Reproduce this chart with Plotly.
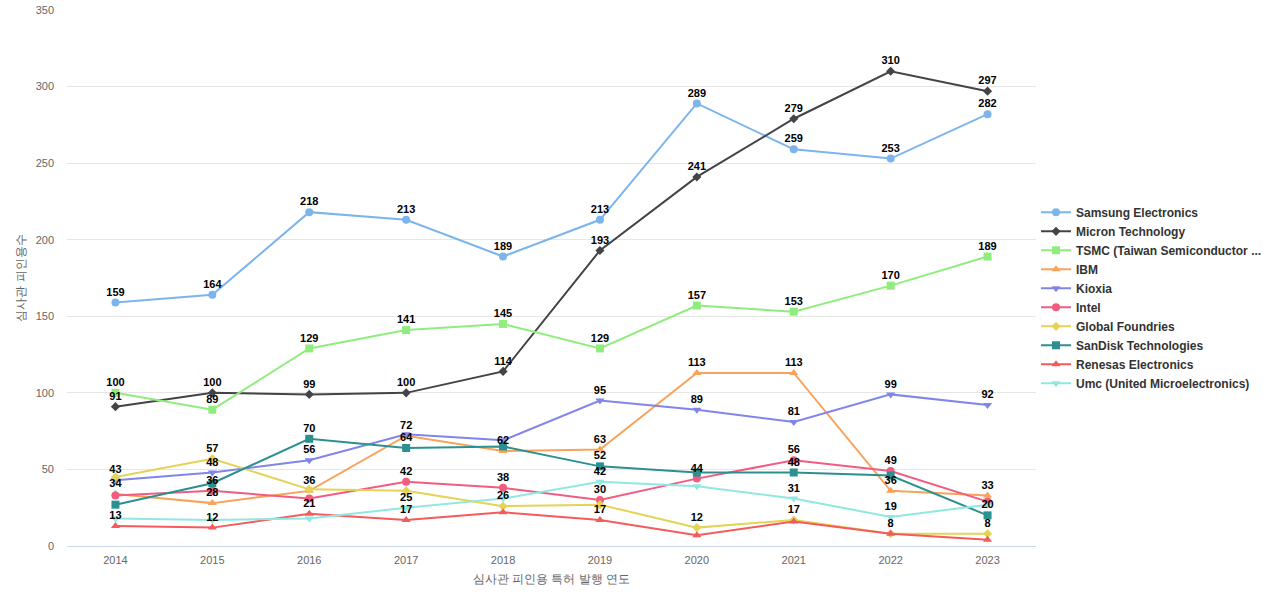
import plotly.graph_objects as go

years = ["2014", "2015", "2016", "2017", "2018", "2019", "2020", "2021", "2022", "2023"]

samsung = [159, 164, 218, 213, 189, 213, 289, 259, 253, 282]
micron = [91, 100, 99, 100, 114, 193, 241, 279, 310, 297]
tsmc = [100, 89, 129, 141, 145, 129, 157, 153, 170, 189]
ibm = [34, 28, 36, 72, 62, 63, 113, 113, 36, 33]
kioxia = [43, 48, 56, 73, 69, 95, 89, 81, 99, 92]
intel = [33, 36, 31, 42, 38, 30, 44, 56, 49, 29]
globalfoundries = [45, 57, 37, 36, 26, 27, 12, 17, 8, 8]
sandisk = [27, 41, 70, 64, 65, 52, 48, 48, 46, 20]
renesas = [13, 12, 21, 17, 22, 17, 7, 16, 8, 4]
umc = [18, 17, 18, 25, 31, 42, 39, 31, 19, 27]

names = ["Samsung Electronics", "Micron Technology", "TSMC (Taiwan Semiconductor ...", "IBM",
         "Kioxia", "Intel", "Global Foundries", "SanDisk Technologies", "Renesas Electronics",
         "Umc (United Microelectronics)"]
series = [samsung, micron, tsmc, ibm, kioxia, intel, globalfoundries, sandisk, renesas, umc]

# which years show a value label (others hidden due to overlap in the original)
label_years = [
    years,
    years,
    years,
    ["2014", "2015", "2016", "2017", "2018", "2019", "2020", "2021", "2022", "2023"],
    ["2014", "2015", "2016", "2019", "2020", "2021", "2022", "2023"],
    ["2015", "2017", "2018", "2019", "2020", "2021", "2022"],
    ["2015", "2018", "2020", "2021", "2023"],
    ["2016", "2017", "2019", "2021", "2023"],
    ["2014", "2015", "2016", "2017", "2019", "2022"],
    ["2017", "2019", "2021", "2022"],
]

colors = ["#7cb5ec", "#434348", "#90ed7d", "#f7a35c", "#8085e9", "#f15c80", "#e4d354",
          "#2b908f", "#f45b5b", "#91e8e1"]
symbols = ["circle", "diamond", "square", "triangle-up", "triangle-down", "circle", "diamond",
           "square", "triangle-up", "triangle-down"]
msizes = [8, 7, 8, 8, 8, 8, 7, 8, 8, 8]

fig = go.Figure()
for name, vals, col, sym, ms in zip(names, series, colors, symbols, msizes):
    fig.add_trace(go.Scatter(
        x=years, y=vals, name=name, mode="lines+markers",
        line=dict(color=col, width=2),
        marker=dict(color=col, symbol=sym, size=ms),
    ))

# value labels drawn above all lines
for name, vals, lyears in zip(names, series, label_years):
    texts = [str(v) if y in lyears else "" for y, v in zip(years, vals)]
    fig.add_trace(go.Scatter(
        x=years, y=vals, mode="markers+text", showlegend=False, hoverinfo="skip",
        marker=dict(size=5, color="rgba(0,0,0,0)"),
        text=texts, textposition="top center",
        textfont=dict(family="Liberation Sans, Arial, sans-serif", size=11, color="#000000", weight="bold"),
        cliponaxis=False,
    ))

fig.update_layout(
    width=1280, height=600,
    margin=dict(l=67, r=244, t=10, b=54),
    paper_bgcolor="white", plot_bgcolor="white",
    font=dict(family="Liberation Sans, Arial, sans-serif", color="#666666", size=11),
    showlegend=True,
    legend=dict(x=1.0, y=0.463, xanchor="left", yanchor="middle",
                font=dict(size=12, color="#333333", weight="bold"),
                bgcolor="rgba(0,0,0,0)", itemwidth=30),
    xaxis=dict(type="category", range=[-0.5, 9.5], showgrid=False, showline=True, automargin=False,
               linecolor="#ccd6eb", linewidth=1, ticks="", tickfont=dict(size=11, color="#666666"),
               ticklabelstandoff=4,
               title=dict(text="심사관 피인용 특허 발행 연도", font=dict(size=12, color="#666666"), standoff=9)),
    yaxis=dict(range=[0, 350], dtick=50, showgrid=True, gridcolor="#e6e6e6", zeroline=False,
               showline=False, automargin=False, tickfont=dict(size=11, color="#666666"), ticklabelstandoff=12,
               ticklabeloverflow="allow",
               title=dict(text="심사관 피인용수", font=dict(size=12, color="#666666"), standoff=7)),
)

fig.write_html("out.html", config={"displayModeBar": False},
               post_script="document.body.style.margin='0';")
